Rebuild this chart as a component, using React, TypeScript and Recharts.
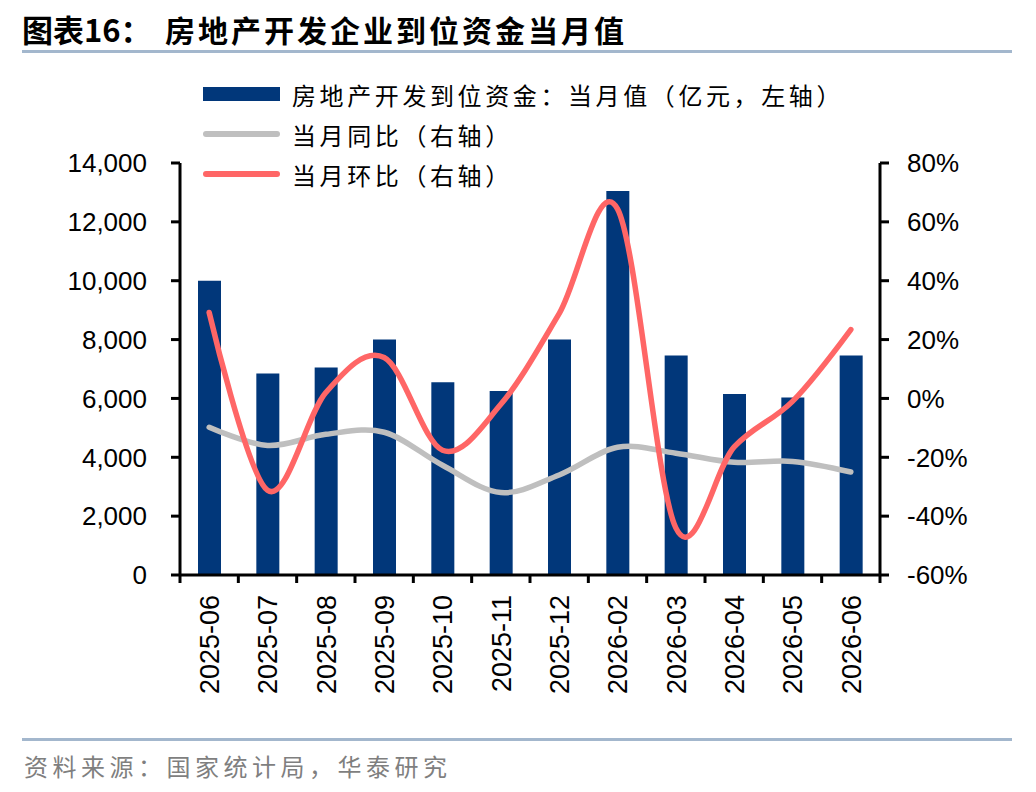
import React from 'react';
import { ComposedChart, Bar, Line, XAxis, YAxis, Legend } from 'recharts';

const months = ['2025-06', '2025-07', '2025-08', '2025-09', '2025-10', '2025-11', '2025-12', '2026-02', '2026-03', '2026-04', '2026-05', '2026-06'];
// 房地产开发到位资金：当月值（亿元）
const funds = [10000, 6850, 7050, 8000, 6550, 6250, 8000, 13050, 7460, 6150, 6030, 7460];
// 当月同比（%）
const yoy = [-9.8, -16, -12.2, -11.5, -22.7, -32, -26, -16.6, -18.6, -21.7, -21.4, -25];
// 当月环比（%）
const mom = [29.2, -31.2, 2, 13.9, -17.6, -2, 28.8, 64.4, -44, -16.5, -1, 23.4];

const leftTicks = [0, 2000, 4000, 6000, 8000, 10000, 12000, 14000];
const rightTicks = [-60, -40, -20, 0, 20, 40, 60, 80];

const legendItems = [
  { key: 'funds', label: '房地产开发到位资金：当月值（亿元，左轴）', color: '#01377A', kind: 'bar' },
  { key: 'yoy', label: '当月同比（右轴）', color: '#BFBFBF', kind: 'line' },
  { key: 'mom', label: '当月环比（右轴）', color: '#FF6666', kind: 'line' },
];

const data = months.map((m, i) => ({ month: m, funds: funds[i], yoy: yoy[i], mom: mom[i] }));

const W = 1036;
const H = 792;
const LEFT_W = 180;
const RIGHT_W = 156;
const PLOT_W = W - LEFT_W - RIGHT_W;
const BAND = PLOT_W / months.length;
const TICK_LEN = 8;
const TICK_GAP = 12;

const CJK = '"Noto Sans CJK SC", sans-serif';
const LATIN = '"Liberation Sans", Arial, sans-serif';

// Excel-style smoothed line (Catmull-Rom / cardinal spline, tension 0)
function excelSmooth(context: any) {
  const k = 1 / 6;
  let x0 = NaN, x1 = NaN, x2 = NaN, y0 = NaN, y1 = NaN, y2 = NaN;
  let pt = 0;
  let line: number = NaN;
  const seg = (x: number, y: number) => {
    context.bezierCurveTo(x1 + k * (x2 - x0), y1 + k * (y2 - y0), x2 + k * (x1 - x), y2 + k * (y1 - y), x2, y2);
  };
  return {
    areaStart() { line = 0; },
    areaEnd() { line = NaN; },
    lineStart() { x0 = x1 = x2 = y0 = y1 = y2 = NaN; pt = 0; },
    lineEnd() {
      if (pt === 2) context.lineTo(x2, y2);
      else if (pt === 3) seg(x1, y1);
      if (line || (line !== 0 && pt === 1)) context.closePath();
      line = 1 - line;
    },
    point(x: number, y: number) {
      x = +x; y = +y;
      if (pt === 0) {
        pt = 1;
        line ? context.lineTo(x, y) : context.moveTo(x, y);
      } else if (pt === 1) {
        pt = 2;
        x1 = x; y1 = y;
      } else {
        if (pt === 2) pt = 3;
        seg(x, y);
      }
      x0 = x1; x1 = x2; x2 = x;
      y0 = y1; y1 = y2; y2 = y;
    },
  };
}

const MonthTick = (props: any) => {
  const { x, y, payload, index } = props;
  const axisY = y - TICK_LEN - TICK_GAP;
  const last = index === months.length - 1;
  return (
    <g>
      <line x1={x - BAND / 2} y1={axisY} x2={x - BAND / 2} y2={axisY + TICK_LEN} stroke="#000" strokeWidth={3} />
      {last && (
        <line x1={x + BAND / 2} y1={axisY} x2={x + BAND / 2} y2={axisY + TICK_LEN} stroke="#000" strokeWidth={3} />
      )}
      <text
        x={x}
        y={y}
        transform={`rotate(-90, ${x}, ${y})`}
        textAnchor="end"
        dy="0.36em"
        fontSize={27}
        fontFamily={LATIN}
        fill="#000"
      >
        {payload.value}
      </text>
    </g>
  );
};

const renderLegend = () => (
  <div style={{ fontFamily: CJK, fontSize: 24, letterSpacing: 3.6, color: '#000' }}>
    {legendItems.map((it) => (
      <div key={it.key} style={{ display: 'flex', alignItems: 'center', height: 40 }}>
        {it.kind === 'bar' ? (
          <div style={{ width: 77, height: 14, background: it.color }} />
        ) : (
          <div style={{ width: 77, height: 6, borderRadius: 3, background: it.color }} />
        )}
        <span style={{ marginLeft: 12, whiteSpace: 'nowrap' }}>{it.label}</span>
      </div>
    ))}
  </div>
);

export default function App() {
  return (
    <div style={{ position: 'absolute', left: 0, top: 0, width: W, height: H, background: '#fff', overflow: 'hidden' }}>
      <div style={{ position: 'absolute', left: 22, top: 11, fontFamily: CJK, fontWeight: 700, fontSize: 31, lineHeight: '36px', whiteSpace: 'nowrap' }}>
        图表16：
      </div>
      <div style={{ position: 'absolute', left: 165, top: 11, fontFamily: CJK, fontWeight: 700, fontSize: 30, letterSpacing: 3, lineHeight: '36px', whiteSpace: 'nowrap' }}>
        房地产开发企业到位资金当月值
      </div>
      <div style={{ position: 'absolute', left: 22, top: 50, width: 990, height: 3, background: '#A3B7CD' }} />

      <ComposedChart
        width={W}
        height={H}
        data={data}
        margin={{ top: 163, right: 0, bottom: 77, left: 0 }}
        barCategoryGap={0}
      >
        <XAxis
          dataKey="month"
          xAxisId="x"
          height={140}
          interval={0}
          tickSize={TICK_LEN}
          tickMargin={TICK_GAP}
          tickLine={false}
          axisLine={{ stroke: '#000', strokeWidth: 3 }}
          tick={<MonthTick />}
        />
        <YAxis
          yAxisId="left"
          orientation="left"
          width={LEFT_W}
          domain={[0, 14000]}
          ticks={leftTicks}
          interval={0}
          tickSize={9}
          tickMargin={24}
          tickFormatter={(v: number) => v.toLocaleString('en-US')}
          tick={{ fontSize: 26, fontFamily: LATIN, fill: '#000' }}
          axisLine={{ stroke: '#000', strokeWidth: 3 }}
          tickLine={{ stroke: '#000', strokeWidth: 3 }}
        />
        <YAxis
          yAxisId="right"
          orientation="right"
          width={RIGHT_W}
          domain={[-60, 80]}
          ticks={rightTicks}
          interval={0}
          tickSize={9}
          tickMargin={18}
          tickFormatter={(v: number) => `${v}%`}
          tick={{ fontSize: 26, fontFamily: LATIN, fill: '#000', textAnchor: 'start' }}
          axisLine={{ stroke: '#000', strokeWidth: 3 }}
          tickLine={{ stroke: '#000', strokeWidth: 3 }}
        />
        <Legend
          layout="vertical"
          verticalAlign="middle"
          align="center"
          content={renderLegend}
          wrapperStyle={{ position: 'absolute', left: 203, top: 74, width: 'auto' }}
        />
        <Bar xAxisId="x" yAxisId="left" dataKey="funds" fill="#01377A" barSize={23} isAnimationActive={false} />
        <Line
          xAxisId="x"
          yAxisId="right"
          dataKey="yoy"
          type={excelSmooth as any}
          stroke="#BFBFBF"
          strokeWidth={5.5}
          strokeLinecap="round"
          dot={false}
          activeDot={false}
          isAnimationActive={false}
        />
        <Line
          xAxisId="x"
          yAxisId="right"
          dataKey="mom"
          type={excelSmooth as any}
          stroke="#FF6666"
          strokeWidth={5.5}
          strokeLinecap="round"
          dot={false}
          activeDot={false}
          isAnimationActive={false}
        />
      </ComposedChart>

      <div style={{ position: 'absolute', left: 22, top: 738, width: 990, height: 3, background: '#A3B7CD' }} />
      <div style={{ position: 'absolute', left: 24, top: 750, fontFamily: CJK, fontSize: 24, letterSpacing: 4.5, color: '#7F7F7F', lineHeight: '32px', whiteSpace: 'nowrap' }}>
        资料来源：国家统计局，华泰研究
      </div>
    </div>
  );
}
